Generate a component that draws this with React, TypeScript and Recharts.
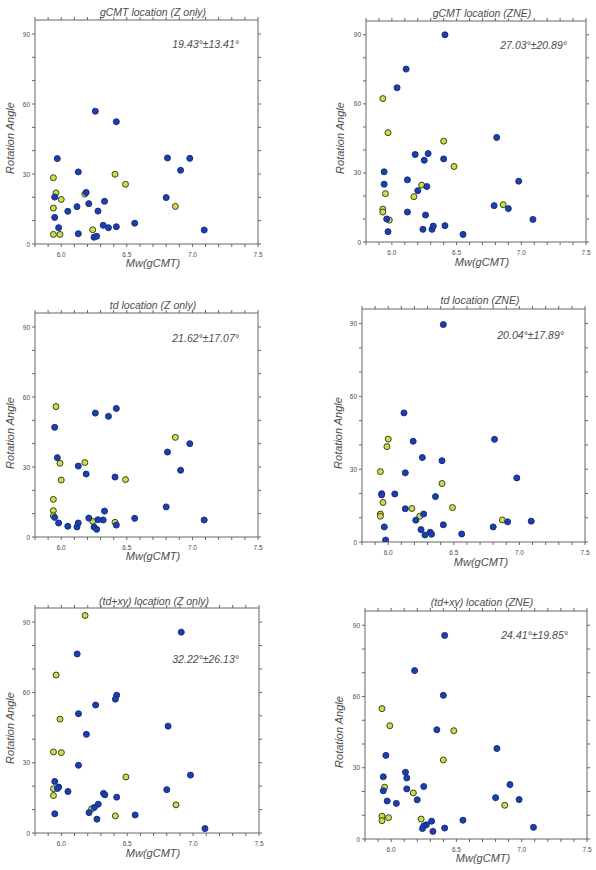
import React from 'react';
import { ScatterChart, Scatter, XAxis, YAxis, ReferenceArea } from 'recharts';

// tick values
const xTicks = [5.8, 5.9, 6.0, 6.1, 6.2, 6.3, 6.4, 6.5, 6.6, 6.7, 6.8, 6.9, 7.0, 7.1, 7.2, 7.3, 7.4, 7.5];
const yTicks = [0, 10, 20, 30, 40, 50, 60, 70, 80, 90];
const xMajor = [6.0, 6.5, 7.0, 7.5];
const yMajor = [0, 30, 60, 90];

// [Mw, rotation angle]; blue = ordinary events, yellow = highlighted events
const gcmtZBlue = [[5.97, 36.6], [5.95, 20.1], [5.95, 11.4], [5.98, 7.0], [6.05, 14.0], [6.12, 16.0], [6.13, 30.9], [6.13, 4.4], [6.19, 22.1], [6.21, 17.3], [6.26, 56.9], [6.28, 14.1], [6.25, 2.9], [6.27, 3.3], [6.33, 18.3], [6.32, 8.0], [6.36, 7.0], [6.42, 52.4], [6.42, 7.4], [6.56, 8.9], [6.80, 19.9], [6.81, 36.9], [6.91, 31.6], [6.98, 36.7], [7.09, 6.0]];
const gcmtZYellow = [[5.94, 28.4], [5.96, 21.9], [6.00, 19.1], [5.94, 15.4], [5.94, 4.1], [5.99, 4.1], [6.18, 21.4], [6.24, 6.1], [6.41, 29.9], [6.49, 25.6], [6.87, 16.1]];

const gcmtZneBlue = [[6.41, 90.0], [6.11, 75.1], [6.04, 67.0], [6.81, 45.4], [6.18, 38.0], [6.28, 38.4], [6.25, 35.5], [6.40, 36.1], [5.94, 30.5], [6.12, 27.0], [5.94, 25.1], [6.20, 22.3], [6.27, 24.1], [6.98, 26.4], [6.79, 15.8], [6.90, 14.5], [6.12, 13.0], [5.96, 10.0], [6.26, 11.7], [7.09, 9.8], [5.97, 4.5], [6.24, 5.5], [6.31, 5.5], [6.32, 6.9], [6.41, 7.1], [6.55, 3.3]];
const gcmtZneYellow = [[5.93, 62.3], [5.97, 47.5], [6.40, 43.8], [6.48, 32.8], [6.23, 24.7], [6.17, 19.7], [5.95, 21.0], [5.93, 14.3], [5.93, 13.0], [5.98, 9.5], [6.86, 16.2]];

const tdZBlue = [[5.95, 47.0], [5.97, 34.0], [5.95, 8.4], [5.98, 6.0], [6.05, 4.6], [6.12, 4.3], [6.13, 6.0], [6.13, 30.4], [6.19, 27.0], [6.21, 8.1], [6.26, 53.1], [6.25, 4.3], [6.27, 3.3], [6.28, 7.4], [6.32, 7.3], [6.33, 11.1], [6.36, 51.7], [6.42, 55.1], [6.41, 25.7], [6.42, 5.1], [6.56, 8.0], [6.80, 12.9], [6.81, 36.4], [6.91, 28.6], [6.98, 40.0], [7.09, 7.3]];
const tdZYellow = [[5.96, 55.9], [5.94, 16.1], [5.94, 11.3], [5.94, 9.1], [5.99, 31.6], [6.00, 24.4], [6.18, 31.9], [6.24, 6.7], [6.41, 6.3], [6.49, 24.6], [6.87, 42.7]];

const tdZneBlue = [[6.42, 89.6], [6.12, 53.2], [6.19, 41.5], [6.81, 42.3], [6.26, 34.8], [6.41, 33.5], [6.13, 28.5], [6.98, 26.4], [5.95, 19.9], [5.95, 19.4], [6.05, 19.8], [6.36, 18.7], [6.13, 13.7], [6.27, 11.5], [6.21, 9.0], [5.97, 6.2], [6.42, 7.1], [6.80, 6.2], [6.91, 8.3], [7.09, 8.6], [6.25, 5.1], [6.28, 2.9], [6.32, 4.0], [6.33, 3.2], [6.56, 3.3], [5.98, 0.8]];
const tdZneYellow = [[6.00, 42.4], [5.99, 39.3], [5.94, 29.0], [6.41, 24.1], [5.96, 16.3], [5.94, 11.5], [5.94, 10.6], [6.18, 13.8], [6.24, 10.6], [6.49, 14.2], [6.87, 9.1]];

const tdxyZBlue = [[6.91, 85.7], [6.12, 76.4], [6.42, 58.8], [6.41, 57.1], [6.26, 54.6], [6.13, 50.9], [6.19, 42.1], [6.81, 45.6], [6.13, 28.9], [6.98, 24.7], [5.95, 22.0], [5.98, 19.6], [5.97, 19.0], [6.05, 17.7], [6.32, 16.9], [6.33, 16.3], [6.42, 15.3], [6.80, 18.5], [6.28, 12.3], [6.25, 10.9], [6.21, 8.7], [6.27, 5.9], [5.95, 8.2], [6.56, 7.7], [7.09, 1.9]];
const tdxyZYellow = [[6.18, 92.8], [5.96, 67.4], [5.99, 48.6], [5.94, 34.6], [6.00, 34.3], [6.49, 23.9], [5.94, 18.9], [5.94, 16.0], [6.23, 10.3], [6.41, 7.3], [6.87, 12.0]];

const tdxyZneBlue = [[6.41, 85.7], [6.18, 70.9], [6.40, 60.5], [6.35, 46.0], [6.81, 38.1], [5.96, 35.2], [6.11, 28.1], [6.12, 25.7], [5.94, 26.2], [6.91, 22.9], [6.25, 22.1], [6.12, 21.1], [5.94, 20.3], [6.20, 16.5], [5.97, 16.0], [6.04, 15.0], [6.80, 17.4], [6.98, 16.6], [6.55, 7.9], [6.31, 7.5], [6.27, 6.0], [6.25, 5.5], [6.24, 4.4], [6.41, 4.6], [6.32, 3.2], [7.09, 4.9]];
const tdxyZneYellow = [[5.93, 54.9], [5.99, 47.7], [6.48, 45.6], [6.40, 33.3], [6.17, 19.4], [5.95, 21.8], [5.93, 9.6], [5.93, 7.7], [5.98, 9.0], [6.23, 8.4], [6.87, 14.2]];

const titles = ['gCMT location (Z only)', 'gCMT location (ZNE)', 'td location (Z only)', 'td location (ZNE)', '(td+xy) location (Z only)', '(td+xy) location (ZNE)'];
const stats = ['19.43°±13.41°', '27.03°±20.89°', '21.62°±17.07°', '20.04°±17.89°', '32.22°±26.13°', '24.41°±19.85°'];

const axisColor = '#666';
const textColor = '#4d4d4d';
const blueFill = '#1d3fae';
const blueStroke = '#14307f';
const yellowFill = '#c9df47';
const yellowStroke = '#3c4226';
const font = '"Liberation Sans", Arial, sans-serif';

// layout: plot rectangle and text anchors for each panel (page px)
const layout = [
  { l: 35, t: 20, r: 258, b: 244, title: [153, 12], xl: [153, 263], yl: [10, 138], st: [239, 44] },
  { l: 366, t: 21, r: 586, b: 242, title: [482, 13], xl: [482, 262], yl: [340, 138], st: [567, 45] },
  { l: 35, t: 313, r: 258, b: 537, title: [153, 305], xl: [153, 556], yl: [10, 433], st: [239, 338] },
  { l: 362, t: 309, r: 585, b: 542, title: [480, 300], xl: [481, 562], yl: [338, 433], st: [564, 335] },
  { l: 35, t: 608, r: 259, b: 833, title: [154, 601], xl: [153, 853], yl: [10, 728], st: [239, 659] },
  { l: 365, t: 611, r: 587, b: 839, title: [482, 602], xl: [483, 858], yl: [339, 732], st: [568, 635] },
];

const panelData = [
  [gcmtZBlue, gcmtZYellow],
  [gcmtZneBlue, gcmtZneYellow],
  [tdZBlue, tdZYellow],
  [tdZneBlue, tdZneYellow],
  [tdxyZBlue, tdxyZYellow],
  [tdxyZneBlue, tdxyZneYellow],
];

const toPoints = (arr: number[][]) => arr.map(([x, y]) => ({ x, y }));
const near = (v: number, list: number[]) => list.some(m => Math.abs(m - v) < 1e-6);

const makeXTick = (ph: number) => (props: any) => {
  const { x, y, payload } = props;
  const v = payload.value;
  return <g>
      <line x1={x} y1={y} x2={x} y2={y + 3} stroke={axisColor} />
      <line x1={x} y1={y - ph} x2={x} y2={y - ph - 3} stroke={axisColor} />
      {near(v, xMajor) && <text x={x} y={y + 10} textAnchor="middle" dominantBaseline="central" fontSize={6.5} fill={textColor} fontFamily={font}>
          {v.toFixed(1)}
        </text>}
    </g>;
};

const makeYTick = (pw: number) => (props: any) => {
  const { x, y, payload } = props;
  const v = payload.value;
  return <g>
      <line x1={x} y1={y} x2={x - 3} y2={y} stroke={axisColor} />
      <line x1={x + pw} y1={y} x2={x + pw + 3} y2={y} stroke={axisColor} />
      {near(v, yMajor) && <text x={x - 5} y={y} textAnchor="end" dominantBaseline="central" fontSize={6.5} fill={textColor} fontFamily={font}>
          {v}
        </text>}
    </g>;
};

const Dot = (fill: string, stroke: string, r: number) => (props: any) => <circle cx={props.cx} cy={props.cy} r={r} fill={fill} stroke={stroke} strokeWidth={1} />;

const Panel = ({ idx }: { idx: number }) => {
  const p = layout[idx];
  const [blue, yellow] = panelData[idx];
  const pw = p.r - p.l;
  const ph = p.b - p.t;
  const yw = 30;
  return <div style={{ position: 'absolute', left: p.l - yw, top: p.t - 6 }}>
      <ScatterChart width={yw + pw + 6} height={6 + ph + 26} margin={{ top: 6, right: 6, left: 0, bottom: 6 }}>
        <XAxis type="number" dataKey="x" domain={[5.8, 7.5]} ticks={xTicks} interval={0} allowDataOverflow height={20} axisLine={false} tickLine={false} tickSize={0} tickMargin={0} tick={makeXTick(ph)} />
        <YAxis type="number" dataKey="y" domain={[0, 96]} ticks={yTicks} interval={0} allowDataOverflow width={yw} axisLine={false} tickLine={false} tickSize={0} tickMargin={0} tick={makeYTick(pw)} />
        <ReferenceArea x1={5.8} x2={7.5} y1={0} y2={96} fill="none" fillOpacity={0} stroke={axisColor} strokeWidth={1} />
        <Scatter data={toPoints(yellow)} shape={Dot(yellowFill, yellowStroke, 3.0)} isAnimationActive={false} />
        <Scatter data={toPoints(blue)} shape={Dot(blueFill, blueStroke, 3.0)} isAnimationActive={false} />
      </ScatterChart>
    </div>;
};

export default function App() {
  return <div style={{ position: 'absolute', left: 0, top: 0, width: 596, height: 870, background: '#fff', overflow: 'hidden' }}>
      {layout.map((_, i) => <Panel key={i} idx={i} />)}
      <svg width={596} height={870} style={{ position: 'absolute', left: 0, top: 0, pointerEvents: 'none' }}>
        {layout.map((p, i) => <g key={i} fontFamily={font} fill={textColor} fontStyle="italic">
            <text x={p.title[0]} y={p.title[1]} textAnchor="middle" dominantBaseline="central" fontSize={10.5}>
              {titles[i]}
            </text>
            <text x={p.xl[0]} y={p.xl[1]} textAnchor="middle" dominantBaseline="central" fontSize={11}>
              Mw(gCMT)
            </text>
            <text x={p.yl[0]} y={p.yl[1]} textAnchor="middle" dominantBaseline="central" fontSize={11} transform={`rotate(-90 ${p.yl[0]} ${p.yl[1]})`}>
              Rotation Angle
            </text>
            <text x={p.st[0]} y={p.st[1]} textAnchor="end" dominantBaseline="central" fontSize={10.5}>
              {stats[i]}
            </text>
          </g>)}
      </svg>
    </div>;
}
